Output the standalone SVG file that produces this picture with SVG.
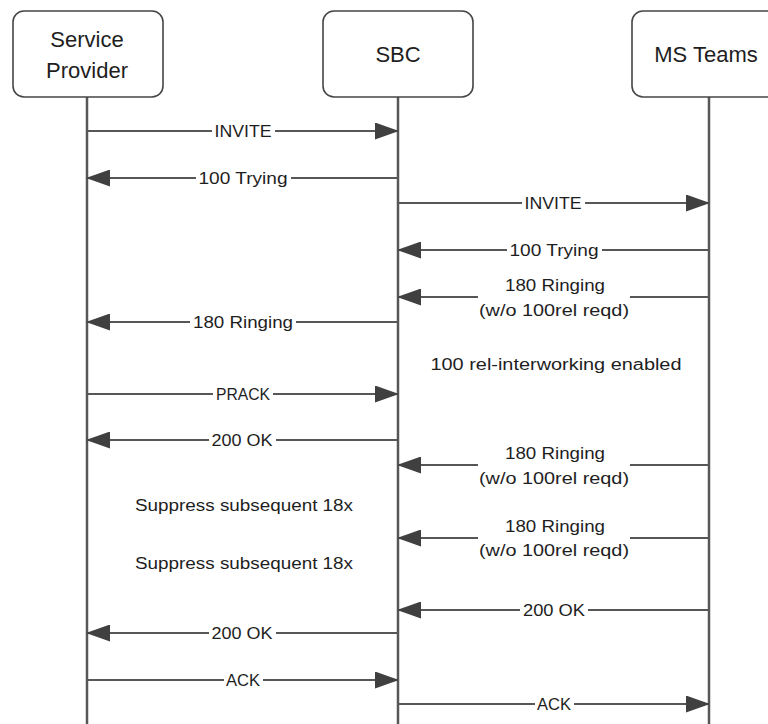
<svg xmlns="http://www.w3.org/2000/svg" width="768" height="724" viewBox="0 0 768 724">
  <style>
    .box { fill: #ffffff; stroke: #454545; stroke-width: 1.6; }
    .title { font-family: "Liberation Sans", Arial, sans-serif; font-size: 22px; fill: #1e1e1e; text-anchor: middle; }
    .life { stroke: #575757; stroke-width: 2.5; fill: none; }
    .msg { stroke: #575757; stroke-width: 2; fill: none; }
    .lbl { font-family: "Liberation Sans", Arial, sans-serif; font-size: 16px; fill: #1e1e1e; text-anchor: middle; }
    .bg { fill: #ffffff; }
  </style>
  <defs>
    <marker id="ah" markerUnits="userSpaceOnUse" markerWidth="24" markerHeight="17" refX="23" refY="8.5" orient="auto">
      <path d="M0,0 L24,8.5 L0,17 z" fill="#404040"/>
    </marker>
  </defs>
  <rect width="768" height="724" fill="#ffffff"/>

  <g id="lifelines">
    <line class="life" x1="87" y1="97" x2="87" y2="724"/>
    <line class="life" x1="398" y1="97" x2="398" y2="724"/>
    <line class="life" x1="709" y1="97" x2="709" y2="724"/>
  </g>

  <g id="node-service-provider">
    <rect class="box" x="13" y="11" width="150" height="86" rx="11"/>
    <text class="title" x="87" y="47">Service</text>
    <text class="title" x="87" y="78">Provider</text>
  </g>
  <g id="node-sbc">
    <rect class="box" x="323" y="11" width="150" height="86" rx="11"/>
    <text class="title" x="398" y="62">SBC</text>
  </g>
  <g id="node-ms-teams">
    <rect class="box" x="632" y="11" width="150" height="86" rx="11"/>
    <text class="title" x="706" y="62">MS Teams</text>
  </g>

  <g id="connectors">
    <!-- INVITE SP -> SBC -->
    <line class="msg" x1="87" y1="131" x2="398" y2="131" marker-end="url(#ah)"/>
    <rect class="bg" x="212" y="123" width="63" height="16"/>
    <text class="lbl" x="243" y="137" textLength="57" lengthAdjust="spacingAndGlyphs">INVITE</text>

    <!-- 100 Trying SBC -> SP -->
    <line class="msg" x1="398" y1="178" x2="87" y2="178" marker-end="url(#ah)"/>
    <rect class="bg" x="196" y="170" width="95" height="16"/>
    <text class="lbl" x="243" y="184" textLength="89" lengthAdjust="spacingAndGlyphs">100 Trying</text>

    <!-- INVITE SBC -> Teams -->
    <line class="msg" x1="398" y1="203" x2="709" y2="203" marker-end="url(#ah)"/>
    <rect class="bg" x="522" y="195" width="63" height="16"/>
    <text class="lbl" x="553" y="209" textLength="57" lengthAdjust="spacingAndGlyphs">INVITE</text>

    <!-- 100 Trying Teams -> SBC -->
    <line class="msg" x1="709" y1="250" x2="398" y2="250" marker-end="url(#ah)"/>
    <rect class="bg" x="507" y="242" width="95" height="16"/>
    <text class="lbl" x="554" y="256" textLength="89" lengthAdjust="spacingAndGlyphs">100 Trying</text>

    <!-- 180 Ringing (w/o 100rel reqd) Teams -> SBC -->
    <line class="msg" x1="709" y1="297" x2="630" y2="297"/>
    <line class="msg" x1="478" y1="297" x2="398" y2="297" marker-end="url(#ah)"/>
    <text class="lbl" x="555" y="291" textLength="100" lengthAdjust="spacingAndGlyphs">180 Ringing</text>
    <text class="lbl" x="554" y="316" textLength="150" lengthAdjust="spacingAndGlyphs">(w/o 100rel reqd)</text>

    <!-- 180 Ringing SBC -> SP -->
    <line class="msg" x1="398" y1="322" x2="87" y2="322" marker-end="url(#ah)"/>
    <rect class="bg" x="190" y="314" width="106" height="16"/>
    <text class="lbl" x="243" y="328" textLength="100" lengthAdjust="spacingAndGlyphs">180 Ringing</text>

    <!-- PRACK SP -> SBC -->
    <line class="msg" x1="87" y1="394" x2="398" y2="394" marker-end="url(#ah)"/>
    <rect class="bg" x="213" y="386" width="60" height="16"/>
    <text class="lbl" x="243" y="400" textLength="54" lengthAdjust="spacingAndGlyphs">PRACK</text>

    <!-- 200 OK SBC -> SP -->
    <line class="msg" x1="398" y1="440" x2="87" y2="440" marker-end="url(#ah)"/>
    <rect class="bg" x="209" y="432" width="67" height="16"/>
    <text class="lbl" x="242" y="446" textLength="61" lengthAdjust="spacingAndGlyphs">200 OK</text>

    <!-- 180 Ringing (w/o 100rel reqd) Teams -> SBC #2 -->
    <line class="msg" x1="709" y1="465" x2="630" y2="465"/>
    <line class="msg" x1="478" y1="465" x2="398" y2="465" marker-end="url(#ah)"/>
    <text class="lbl" x="555" y="459" textLength="100" lengthAdjust="spacingAndGlyphs">180 Ringing</text>
    <text class="lbl" x="554" y="484" textLength="150" lengthAdjust="spacingAndGlyphs">(w/o 100rel reqd)</text>

    <!-- 180 Ringing (w/o 100rel reqd) Teams -> SBC #3 -->
    <line class="msg" x1="709" y1="538" x2="630" y2="538"/>
    <line class="msg" x1="478" y1="538" x2="398" y2="538" marker-end="url(#ah)"/>
    <text class="lbl" x="555" y="532" textLength="100" lengthAdjust="spacingAndGlyphs">180 Ringing</text>
    <text class="lbl" x="554" y="556" textLength="150" lengthAdjust="spacingAndGlyphs">(w/o 100rel reqd)</text>

    <!-- 200 OK Teams -> SBC -->
    <line class="msg" x1="709" y1="610" x2="398" y2="610" marker-end="url(#ah)"/>
    <rect class="bg" x="520" y="602" width="68" height="16"/>
    <text class="lbl" x="554" y="616" textLength="62" lengthAdjust="spacingAndGlyphs">200 OK</text>

    <!-- 200 OK SBC -> SP -->
    <line class="msg" x1="398" y1="633" x2="87" y2="633" marker-end="url(#ah)"/>
    <rect class="bg" x="209" y="625" width="67" height="16"/>
    <text class="lbl" x="242" y="639" textLength="61" lengthAdjust="spacingAndGlyphs">200 OK</text>

    <!-- ACK SP -> SBC -->
    <line class="msg" x1="87" y1="680" x2="398" y2="680" marker-end="url(#ah)"/>
    <rect class="bg" x="224" y="672" width="39" height="16"/>
    <text class="lbl" x="243" y="686" textLength="34" lengthAdjust="spacingAndGlyphs">ACK</text>

    <!-- ACK SBC -> Teams -->
    <line class="msg" x1="398" y1="704" x2="709" y2="704" marker-end="url(#ah)"/>
    <rect class="bg" x="535" y="696" width="39" height="16"/>
    <text class="lbl" x="554" y="710" textLength="34" lengthAdjust="spacingAndGlyphs">ACK</text>
  </g>

  <g id="notes">
    <text class="lbl" x="556" y="370" textLength="251" lengthAdjust="spacingAndGlyphs">100 rel-interworking enabled</text>
    <text class="lbl" x="244" y="511" textLength="218" lengthAdjust="spacingAndGlyphs">Suppress subsequent 18x</text>
    <text class="lbl" x="244" y="569" textLength="218" lengthAdjust="spacingAndGlyphs">Suppress subsequent 18x</text>
  </g>
</svg>
